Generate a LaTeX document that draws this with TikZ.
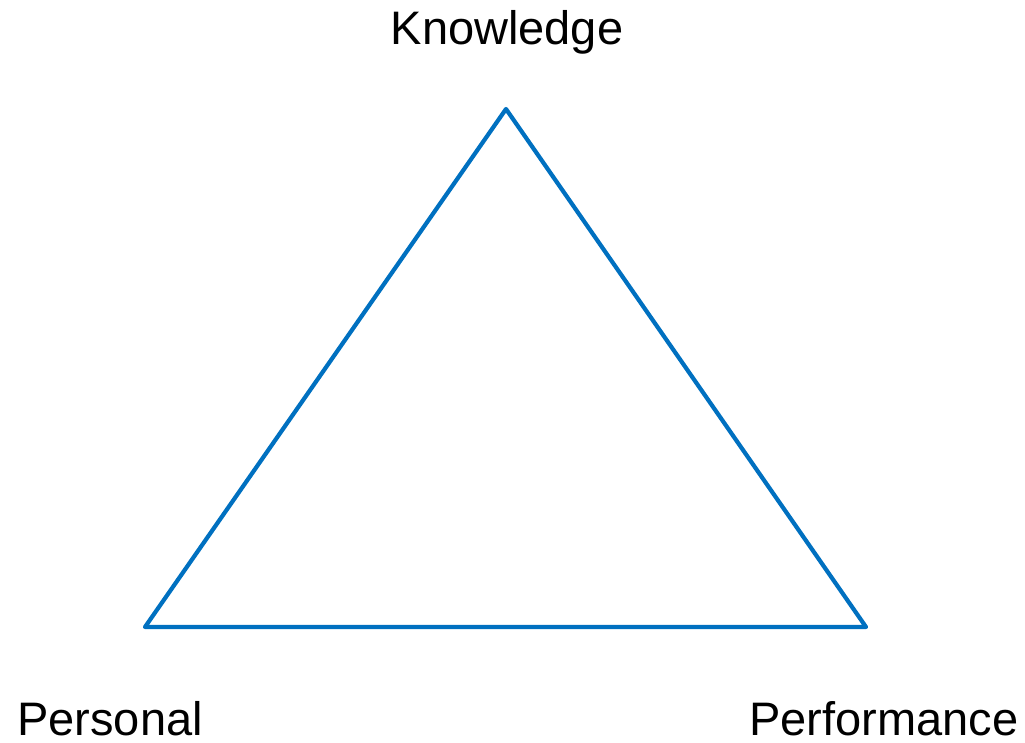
\documentclass[tikz,border=0pt]{standalone}
\usepackage{fontspec}
\setmainfont{Liberation Sans}
\definecolor{triblue}{HTML}{0070C0}
\begin{document}
\begin{tikzpicture}[x=1pt,y=-1pt,
  lbl/.style={font=\fontsize{47}{56}\selectfont, inner sep=0pt, anchor=base},
  vtx/.style={inner sep=0pt, minimum size=0pt}]
\useasboundingbox (0,0) rectangle (1025,742);
\node[vtx] (k) at (506,109) {};
\node[vtx] (p) at (145,627) {};
\node[vtx] (f) at (866,627) {};
\draw[triblue, line width=4.2pt, line join=round] (k.center) -- (p.center) -- (f.center) -- cycle;
\node[lbl] (kl) at (507,44) {Knowledge};
\node[lbl] (pl) at (110,735) {Personal};
\node[lbl] (fl) at (884,735) {Performance};
\end{tikzpicture}
\end{document}
